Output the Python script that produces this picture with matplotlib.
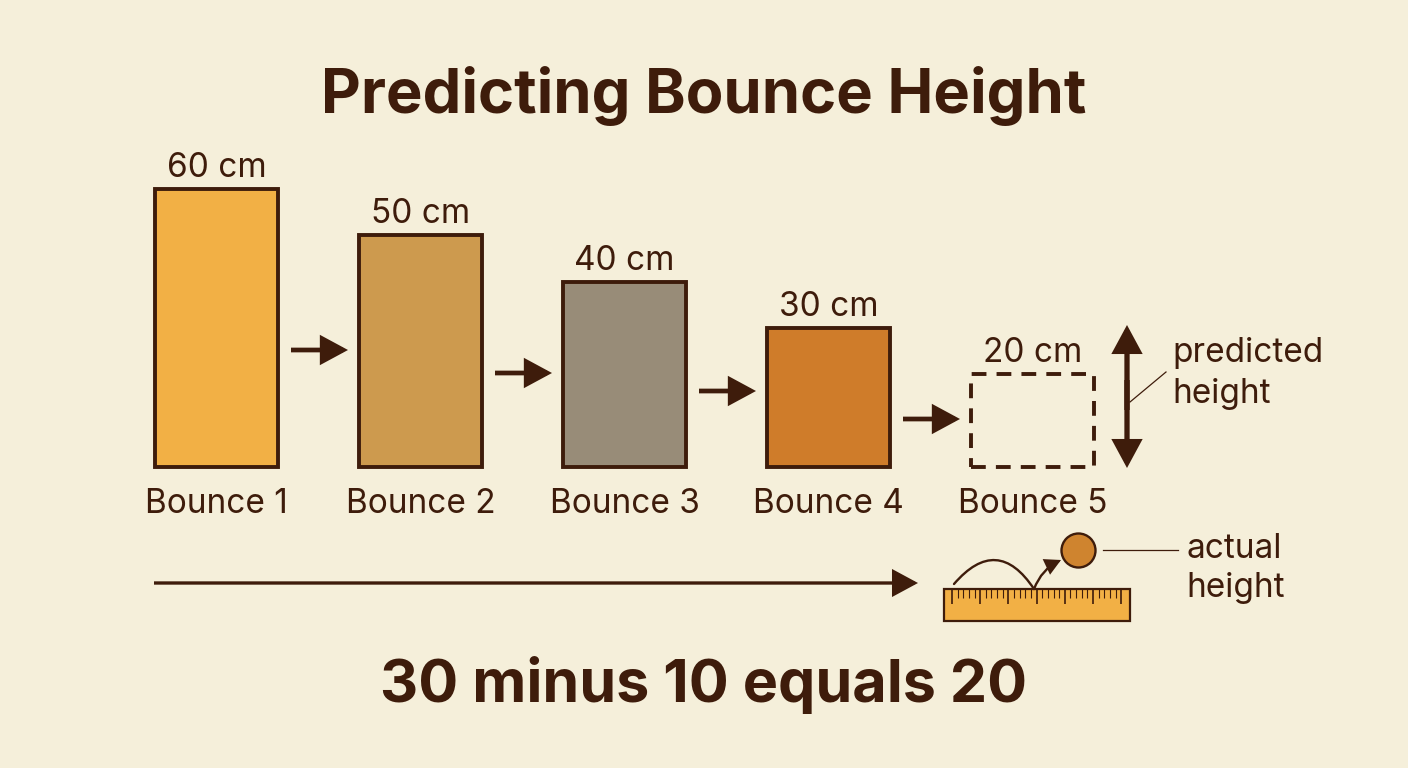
import matplotlib
matplotlib.use('Agg')
import matplotlib.pyplot as plt
from matplotlib.patches import Rectangle, Circle, FancyArrowPatch

categories = ['Bounce 1', 'Bounce 2', 'Bounce 3', 'Bounce 4', 'Bounce 5']
heights = [60, 50, 40, 30, 20]
colors = ['#F2B045', '#CD9A4E', '#988C78', '#CF7C2A', 'none']
height_labels = ['60 cm', '50 cm', '40 cm', '30 cm', '20 cm']
title = 'Predicting Bounce Height'
equation = '30 minus 10 equals 20'

BG = '#F5EFDA'
DARK = '#3E1C0B'
W, H = 1408, 768
FONT = 'Inter'
HEAD = '-|>,head_length=0.5,head_width=0.27'


def add_arrow(ax, start, end, lw=3.2, scale=30, style=HEAD):
    ax.add_patch(FancyArrowPatch(start, end, arrowstyle=style, mutation_scale=scale,
                                 lw=lw, color=DARK, shrinkA=0, shrinkB=0,
                                 capstyle='butt', joinstyle='miter'))


def draw_bars(fig):
    # x: one unit per bounce, y: cm
    ax = fig.add_axes([114.5 / W, (H - 467) / H, 1020 / W, 278 / H])
    ax.patch.set_alpha(0)
    bars = ax.bar(range(len(heights)), heights, width=0.603, color=colors,
                  edgecolor=DARK, linewidth=2.8)
    bars[4].set_linestyle((0, (3.8, 2.6)))
    ax.set_xlim(-0.5, 4.5)
    ax.set_ylim(0, 60)
    ax.set_xticks(range(len(categories)))
    ax.set_xticklabels(categories, fontsize=24, color=DARK, family=FONT)
    ax.set_yticks([])
    ax.tick_params(axis='x', length=0, pad=15)
    for s in ax.spines.values():
        s.set_visible(False)
    for b in bars:
        b.set_clip_on(False)
    ax.bar_label(bars, labels=height_labels, padding=3.5, fontsize=24,
                 color=DARK, family=FONT)


def draw_overlay(fig):
    ax = fig.add_axes([0, 0, 1, 1])
    ax.set_xlim(0, W)
    ax.set_ylim(H, 0)
    ax.axis('off')
    ax.patch.set_alpha(0)

    ax.text(704, 96, title, ha='center', va='center', fontsize=44.3, fontweight='bold',
            color=DARK, family=FONT)
    ax.text(704, 685, equation, ha='center', va='center', fontsize=42.6, fontweight='bold',
            color=DARK, family=FONT)

    # arrows between the bars
    for x0, y0 in [(291, 350), (495, 373), (699, 391), (903, 419)]:
        add_arrow(ax, (x0, y0), (x0 + 57, y0), lw=3.4)

    # predicted height
    add_arrow(ax, (1127, 380), (1127, 468), lw=3.8)
    add_arrow(ax, (1127, 410), (1127, 325), lw=3.8)
    ax.plot([1130, 1166], [402, 372], color=DARK, lw=0.9)
    ax.text(1172, 353, 'predicted', ha='left', va='center', fontsize=24, color=DARK, family=FONT)
    ax.text(1172, 394, 'height', ha='left', va='center', fontsize=24, color=DARK, family=FONT)

    # long timeline arrow
    add_arrow(ax, (154, 583), (918, 583), lw=2.4)

    # ruler
    ax.add_patch(Rectangle((944, 589), 186, 32, facecolor='#F2B045', edgecolor=DARK, lw=1.6))
    for i in range(31):
        x = 952 + i * 5.64
        ax.plot([x, x], [589, 604 if i % 5 == 0 else 598], color=DARK,
                lw=1.2 if i % 5 == 0 else 0.8, solid_capstyle='butt')

    # bounce path and ball
    ax.add_patch(FancyArrowPatch((954, 584), (1034, 589), connectionstyle='arc3,rad=-0.66',
                                 arrowstyle='-', lw=1.7, color=DARK, shrinkA=0, shrinkB=0))
    ax.add_patch(FancyArrowPatch((1034, 589), (1061, 560), connectionstyle='arc3,rad=-0.2',
                                 arrowstyle='-|>,head_length=0.6,head_width=0.32', mutation_scale=15,
                                 lw=1.7, color=DARK, shrinkA=0, shrinkB=0, joinstyle='miter'))
    ax.add_patch(Circle((1078.5, 550.5), 17, facecolor='#CF842F', edgecolor=DARK, lw=1.7))
    ax.plot([1103, 1178], [550, 550], color=DARK, lw=0.9)
    ax.text(1186, 549, 'actual', ha='left', va='center', fontsize=24, color=DARK, family=FONT)
    ax.text(1186, 588, 'height', ha='left', va='center', fontsize=24, color=DARK, family=FONT)


def main():
    fig = plt.figure(figsize=(W / 100, H / 100), dpi=100, facecolor=BG)
    draw_bars(fig)
    draw_overlay(fig)
    fig.savefig('out.png', dpi=100, facecolor=BG)


if __name__ == "__main__":
    main()
